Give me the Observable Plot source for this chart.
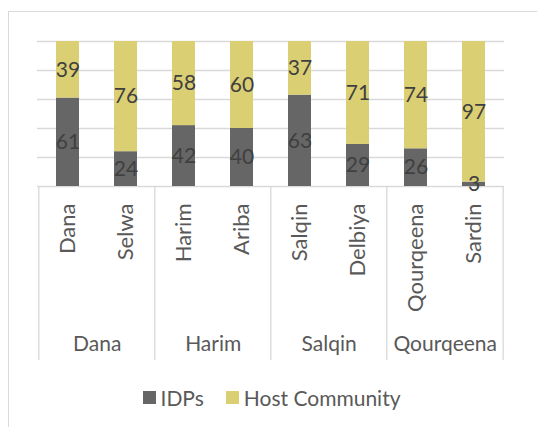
<!DOCTYPE html>
<html>
<head>
<meta charset="utf-8">
<script src="https://cdn.jsdelivr.net/npm/d3@7"></script>
<script src="https://cdn.jsdelivr.net/npm/@observablehq/plot@0.6"></script>
<style>
  html, body { margin: 0; padding: 0; background: #fff; }
  body { width: 537px; height: 427px; position: relative; overflow: hidden; font-family: Lato, "Open Sans", sans-serif; }
  #frame { position: absolute; left: 8px; top: 11px; right: -2px; bottom: -2px; border-left: 1.5px solid #d9d9d9; border-top: 1.5px solid #d9d9d9; }
  #chart { position: absolute; left: 0; top: 0; }
  #legend { position: absolute; left: 6px; right: 0; top: 385px; display: flex; justify-content: center; gap: 22px; font-size: 21px; color: #595959; }
  .item { display: flex; align-items: center; gap: 5px; }
  .sw { width: 13px; height: 13px; display: inline-block; }
</style>
</head>
<body>
<div id="frame"></div>
<div id="chart"></div>
<div id="legend"></div>
<script>
const sites = ["Dana", "Selwa", "Harim", "Ariba", "Salqin", "Delbiya", "Qourqeena", "Sardin"];
const groups = ["Dana", "Dana", "Harim", "Harim", "Salqin", "Salqin", "Qourqeena", "Qourqeena"];
const idps = [61, 24, 42, 40, 63, 29, 26, 3];
const host = [39, 76, 58, 60, 37, 71, 74, 97];
const series = ["IDPs", "Host Community"];
const colors = ["#666666", "#DBCF73"];
const yTicks = [20, 40, 60, 80, 100];

const rows = sites.flatMap((s, i) => [
  {site: s, series: series[0], value: idps[i]},
  {site: s, series: series[1], value: host[i]}
]);
const groupStarts = sites.map((s, i) => ({site: s, group: groups[i], first: i === 0 || groups[i - 1] !== groups[i]})).filter(d => d.first);
const lastSite = [{site: sites[sites.length - 1]}];

const W = 537, H = 370, mL = 37, mR = 33;
const step = (W - mL - mR) / sites.length;

const plot = Plot.plot({
  width: W, height: H,
  marginTop: 41, marginBottom: 184, marginLeft: mL, marginRight: mR,
  style: {fontFamily: "Lato, 'Open Sans', sans-serif", fontSize: "21px", background: "transparent", overflow: "visible", color: "#595959"},
  x: {domain: sites, paddingInner: 0.6, paddingOuter: 0.3, axis: null},
  y: {domain: [0, 100], axis: null},
  color: {domain: series, range: colors},
  marks: [
    Plot.gridY(yTicks, {stroke: "#d9d9d9", strokeOpacity: 1, strokeWidth: 1.3}),
    Plot.ruleY([0], {stroke: "#d9d9d9", strokeWidth: 1.3}),
    Plot.barY(rows, {x: "site", y: "value", fill: "series", order: series}),
    Plot.text(rows, Plot.stackY({x: "site", y: "value", z: "series", order: series, text: d => String(d.value), fill: "#404040", fontSize: 21})),
    Plot.text(sites, {x: d => d, text: d => d, rotate: -90, textAnchor: "end", lineAnchor: "middle", frameAnchor: "bottom", dy: 17, fill: "#595959", fontSize: 22}),
    Plot.ruleX(groupStarts, {x: "site", dx: -step / 2, insetTop: 145, insetBottom: -174, stroke: "#d9d9d9", strokeWidth: 1.3}),
    Plot.ruleX(lastSite, {x: "site", dx: step / 2, insetTop: 145, insetBottom: -174, stroke: "#d9d9d9", strokeWidth: 1.3}),
    Plot.text(groupStarts, {x: "site", dx: step / 2, text: "group", frameAnchor: "bottom", dy: 164, fill: "#595959", fontSize: 21})
  ]
});
document.getElementById("chart").appendChild(plot);

const legend = document.getElementById("legend");
series.forEach((s, i) => {
  const item = document.createElement("div");
  item.className = "item";
  const sw = document.createElement("span");
  sw.className = "sw";
  sw.style.background = colors[i];
  const t = document.createElement("span");
  t.textContent = s;
  item.appendChild(sw);
  item.appendChild(t);
  legend.appendChild(item);
});
</script>
</body>
</html>
